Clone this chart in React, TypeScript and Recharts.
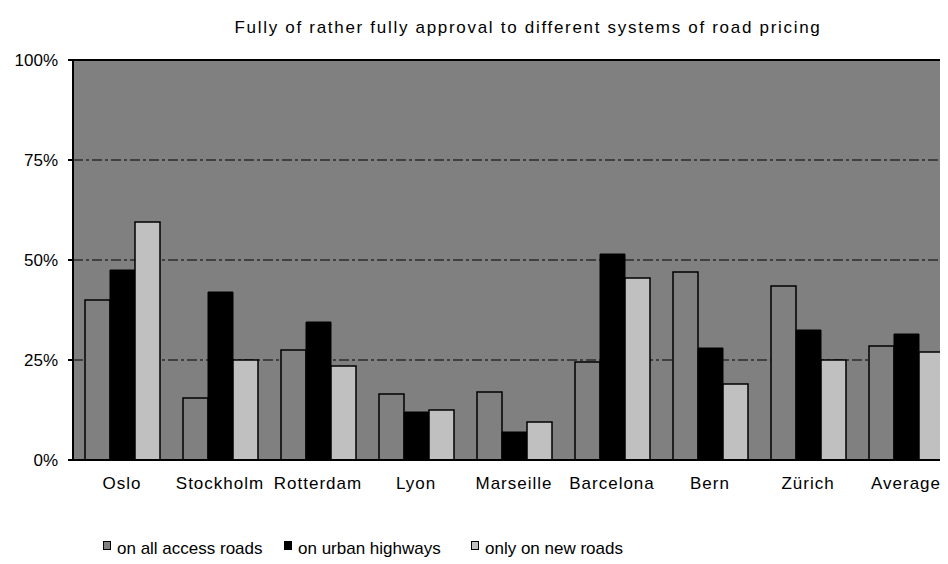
import React from 'react';
import { BarChart, Bar, XAxis, YAxis, CartesianGrid, Legend, ReferenceLine } from 'recharts';

const categories = ['Oslo', 'Stockholm', 'Rotterdam', 'Lyon', 'Marseille', 'Barcelona', 'Bern', 'Zürich', 'Average'];
const allAccessRoads = [40, 15.5, 27.5, 16.5, 17, 24.5, 47, 43.5, 28.5];
const urbanHighways = [47.5, 42, 34.5, 12, 7, 51.5, 28, 32.5, 31.5];
const newRoadsOnly = [59.5, 25, 23.5, 12.5, 9.5, 45.5, 19, 25, 27];
const yTicks = [0, 25, 50, 75, 100];

const seriesNames = ['on all access roads', 'on urban highways', 'only on new roads'];
const seriesColors = ['#808080', '#000000', '#c0c0c0'];

const data = categories.map((name, i) => ({
  name,
  a: allAccessRoads[i],
  b: urbanHighways[i],
  c: newRoadsOnly[i],
}));

const FONT = '"Liberation Sans", Arial, sans-serif';

const legendLeft = [95, 276, 463];

const ChartLegend = () => (
  <div style={{ position: 'relative', height: 36, width: 940, fontFamily: FONT, fontSize: 17, color: '#000' }}>
    {seriesNames.map((n, i) => (
      <div key={n} style={{ position: 'absolute', left: legendLeft[i], top: 20, whiteSpace: 'nowrap', lineHeight: '18px' }}>
        <span
          style={{
            display: 'inline-block',
            width: 6,
            height: 7,
            background: seriesColors[i],
            border: '1px solid #000',
            marginRight: 6,
            verticalAlign: 'top',
            marginTop: 1,
          }}
        />
        {n}
      </div>
    ))}
  </div>
);

export default function App() {
  return (
    <div style={{ position: 'relative', width: 940, height: 556, overflow: 'hidden', fontFamily: FONT }}>
      <div
        style={{
          position: 'absolute',
          left: 520,
          top: 10,
          transform: 'translateX(-50%)',
          whiteSpace: 'nowrap',
          fontSize: 17,
          letterSpacing: 1.7,
          color: '#000',
        }}
      >
        Fully of rather fully approval to different systems of road pricing
      </div>
      <BarChart
        width={960}
        height={556}
        data={data}
        margin={{ top: 52, right: 13, left: 0, bottom: 8 }}
        barCategoryGap={12}
        barGap={0}
      >
        <CartesianGrid vertical={false} fill="#808080" stroke="#000" strokeDasharray="10 3 3 3" />
        <ReferenceLine y={100} stroke="#000" strokeWidth={2} />
        <XAxis
          dataKey="name"
          height={60}
          tickLine={false}
          axisLine={{ stroke: '#000', strokeWidth: 2 }}
          tickSize={8}
          tickMargin={9}
          interval={0}
          tick={{ fill: '#000', fontSize: 17, fontFamily: FONT, letterSpacing: 1 }}
        />
        <YAxis
          width={65}
          domain={[0, 100]}
          ticks={yTicks}
          tickFormatter={(v: number) => `${v}%`}
          axisLine={{ stroke: '#000', strokeWidth: 2 }}
          tickLine={{ stroke: '#000', strokeWidth: 2 }}
          tickSize={5}
          tickMargin={10}
          tick={{ fill: '#000', fontSize: 17, fontFamily: FONT }}
        />
        <Legend verticalAlign="bottom" height={36} content={() => <ChartLegend />} />
        <Bar dataKey="a" name={seriesNames[0]} fill={seriesColors[0]} stroke="#000" strokeWidth={1.5} isAnimationActive={false} />
        <Bar dataKey="b" name={seriesNames[1]} fill={seriesColors[1]} stroke="#000" strokeWidth={1} isAnimationActive={false} />
        <Bar dataKey="c" name={seriesNames[2]} fill={seriesColors[2]} stroke="#000" strokeWidth={1.5} isAnimationActive={false} />
      </BarChart>
    </div>
  );
}
